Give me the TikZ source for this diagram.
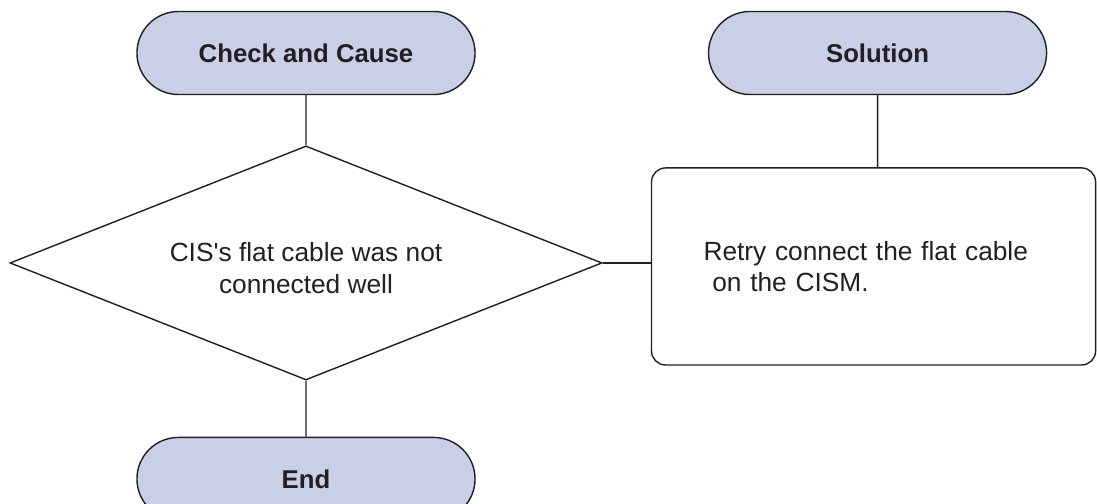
\documentclass[tikz,border=0pt]{standalone}
\usepackage{fontspec}
\setmainfont{Liberation Sans}
\usepackage{tikz}
\usetikzlibrary{shapes.geometric}
\usetikzlibrary{shapes.misc}
\usetikzlibrary{positioning}
\definecolor{inkgray}{RGB}{35,31,32}
\definecolor{termblue}{RGB}{201,207,230}
\tikzset{
  terminal/.style={draw=inkgray, line width=1pt, fill=termblue, rounded rectangle, minimum width=8.45cm, minimum height=2.075cm, inner sep=0pt, text=inkgray, font=\fontsize{18.3}{22}\selectfont\bfseries},
  decision/.style={draw=inkgray, line width=1pt, diamond, aspect=2.53, minimum width=14.8cm, minimum height=5.85cm, inner sep=0pt},
  notetext/.style={align=center, text=inkgray, font=\fontsize{18.7}{22.5}\selectfont},
  action/.style={draw=inkgray, line width=1pt, rounded corners=10pt, align=left, text width=#1, inner xsep=1.3cm, minimum height=4.925cm, text=inkgray, font=\fontsize{18.7}{22.5}\selectfont},
  action/.default=8.5cm,
  flowline/.style={draw=inkgray, line width=1pt},
}

\begin{document}
\begin{tikzpicture}[x=0.025cm, y=-0.025cm, node distance=1.25cm]
  \useasboundingbox (0,0) rectangle (1097,504);
  \clip (0,0) rectangle (1097,504);

  \node[terminal] (check) at (306,53) {Check and Cause};
  \node[terminal, right=5.8cm of check] (sol) {Solution};

  \node[decision, below=1.25cm of check] (dia) {};
  \node[notetext, yshift=-0.13cm] (cause) at (dia.center) {CIS\textquotesingle s flat cable was not\\connected well};

  \node[action=8.5cm, below=1.8cm of sol, xshift=-0.1cm] (fix) {Retry connect the flat cable\\~on the CISM.};

  \node[terminal, below=1.4cm of dia] (done) {End};

  \draw[flowline] (check) -- (dia);
  \draw[flowline] (sol) -- (sol |- fix.north);
  \draw[flowline] (dia.east) -- (dia.east -| fix.west);
  \draw[flowline] (dia) -- (done);
\end{tikzpicture}
\end{document}
